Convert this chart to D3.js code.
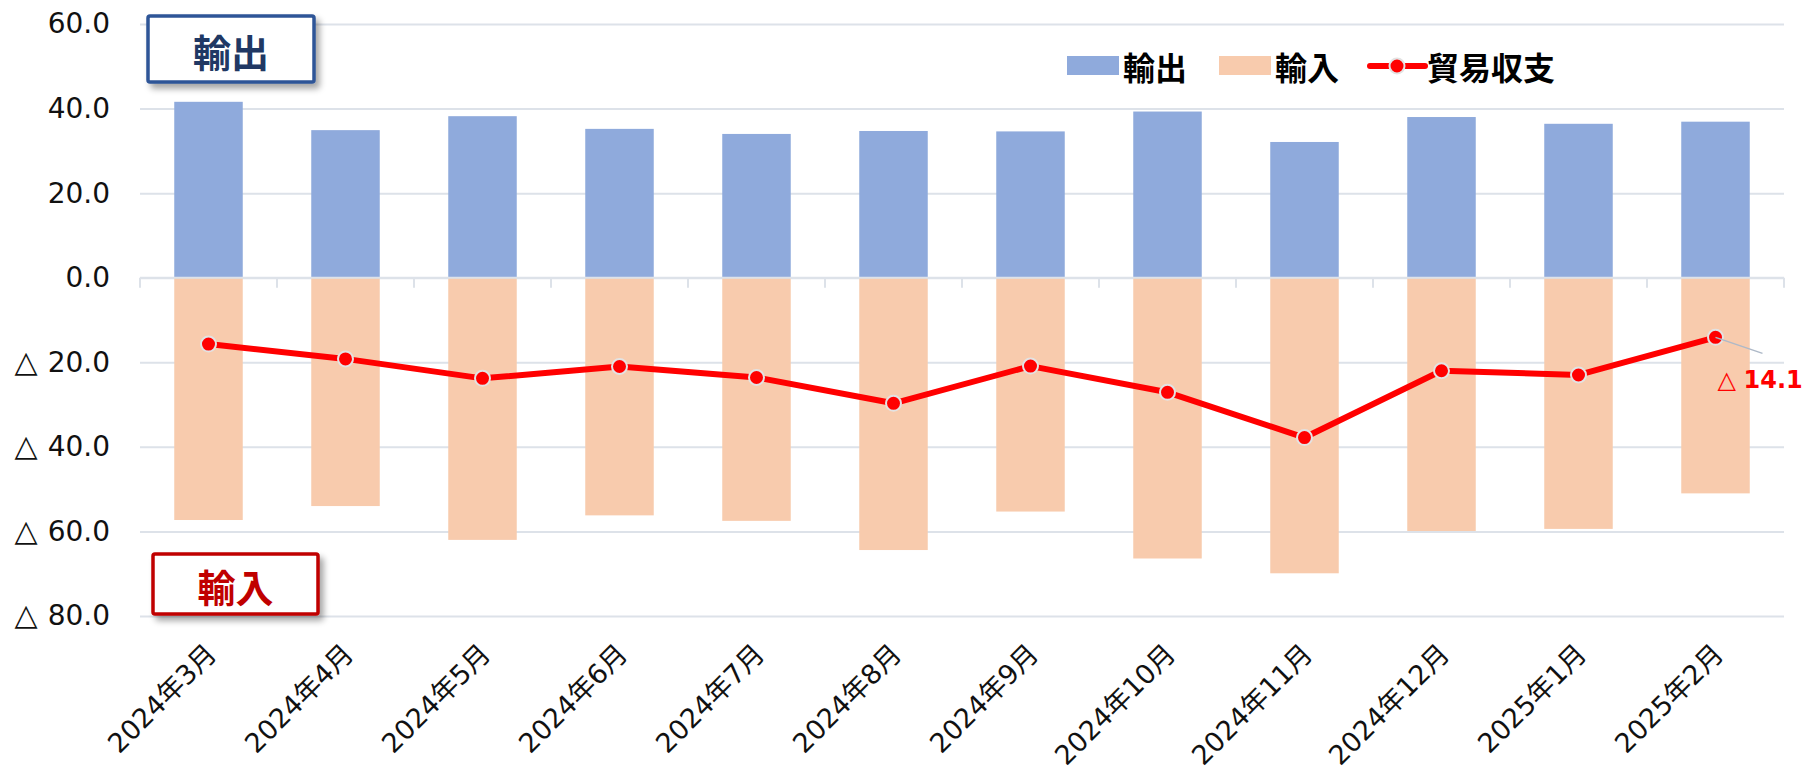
<!DOCTYPE html>
<html>
<head>
<meta charset="utf-8">
<script src="https://cdn.jsdelivr.net/npm/d3@7"></script>
<style>
  html, body { margin: 0; padding: 0; background: #fff; }
  svg { display: block; }
</style>
</head>
<body>
<svg id="chart" width="1807" height="773"></svg>
<script>
// ---- data ----
const categories = ["2024年3月","2024年4月","2024年5月","2024年6月","2024年7月","2024年8月",
                    "2024年9月","2024年10月","2024年11月","2024年12月","2025年1月","2025年2月"];
const exportsVals = [41.6, 34.9, 38.2, 35.2, 34.0, 34.7, 34.6, 39.3, 32.1, 38.0, 36.4, 36.9];
const importsVals = [-57.3, -54.0, -62.0, -56.2, -57.5, -64.4, -55.3, -66.4, -69.9, -59.9, -59.4, -51.0];
const balanceVals = [-15.7, -19.2, -23.8, -21.0, -23.6, -29.7, -20.9, -27.1, -37.8, -22.0, -23.0, -14.1];
const yTicks = [-80, -60, -40, -20, 0, 20, 40, 60];
const seriesNames = ["輸出", "輸入", "貿易収支"];

(function () {
// ---- layout ----
const svg = d3.select("#chart");
const pL = 140, pR = 1784, pT = 24, pB = 616;
const cExp = "#8FAADC", cImp = "#F8CBAD", cBal = "#FF0000", cGrid = "#DDE2E9";
const numFont = "'DejaVu Sans', 'Noto Sans CJK JP', sans-serif";
const cjkFont = "'Noto Sans CJK JP', 'DejaVu Sans', sans-serif";

const x = d3.scaleBand().domain(categories).range([pL, pR]).paddingInner(0.5).paddingOuter(0.25);
const y = d3.scaleLinear().domain([-80, 60]).range([pB, pT]);

const defs = svg.append("defs");
const f = defs.append("filter").attr("id", "shadow").attr("x", "-20%").attr("y", "-30%").attr("width", "150%").attr("height", "180%");
f.append("feDropShadow").attr("dx", 4).attr("dy", 5).attr("stdDeviation", 3)
  .attr("flood-color", "#000").attr("flood-opacity", 0.35);

// grid + y labels
const fmt = d3.format(".1f");
const yAxis = d3.axisLeft(y).tickValues(yTicks).tickSize(-(pR - pL)).tickPadding(30)
  .tickFormat(d => d < 0 ? "△ " + fmt(-d) : fmt(d));
const gy = svg.append("g").attr("transform", `translate(${pL},0)`).call(yAxis);
gy.select(".domain").remove();
gy.selectAll(".tick line").attr("stroke", cGrid).attr("stroke-width", 2);
gy.selectAll(".tick text").attr("fill", "#111").attr("font-family", numFont).attr("font-size", 28)
  .each(function (d) {
    if (d < 0) {
      const t = d3.select(this).text("");
      t.append("tspan").attr("font-size", 30).text("△");
      t.append("tspan").attr("dx", 10).text(fmt(-d));
    }
  });

// bars
svg.append("g").selectAll("rect").data(categories).join("rect")
  .attr("x", d => x(d)).attr("width", x.bandwidth())
  .attr("y", (d, i) => y(exportsVals[i])).attr("height", (d, i) => y(0) - y(exportsVals[i]))
  .attr("fill", cExp);
svg.append("g").selectAll("rect").data(categories).join("rect")
  .attr("x", d => x(d)).attr("width", x.bandwidth())
  .attr("y", y(0)).attr("height", (d, i) => y(importsVals[i]) - y(0))
  .attr("fill", cImp);

// zero axis line + tick marks at band boundaries
svg.append("line").attr("x1", pL).attr("x2", pR).attr("y1", y(0)).attr("y2", y(0))
  .attr("stroke", cGrid).attr("stroke-width", 2);
const boundaries = categories.map(d => x(d) - x.step() * 0.25).concat([pR]);
svg.append("g").selectAll("line").data(boundaries).join("line")
  .attr("x1", d => d).attr("x2", d => d).attr("y1", y(0)).attr("y2", y(0) + 10)
  .attr("stroke", cGrid).attr("stroke-width", 2);

// x labels
svg.append("g").selectAll("text").data(categories).join("text")
  .attr("transform", d => `translate(${x(d) + x.bandwidth() / 2 + 3},${pB + 33}) rotate(-45)`)
  .attr("text-anchor", "end").attr("dominant-baseline", "central")
  .attr("font-family", numFont).attr("font-size", 27).attr("fill", "#111")
  .text(d => d);

// balance line
const cx = d => x(d) + x.bandwidth() / 2;
const line = d3.line().x((d, i) => cx(categories[i])).y(d => y(d));
svg.append("path").datum(balanceVals).attr("d", line)
  .attr("fill", "none").attr("stroke", cBal).attr("stroke-width", 6).attr("stroke-linejoin", "round");
svg.append("g").selectAll("circle").data(balanceVals).join("circle")
  .attr("cx", (d, i) => cx(categories[i])).attr("cy", d => y(d)).attr("r", 7.5)
  .attr("fill", cBal).attr("stroke", "#E3E3E3").attr("stroke-width", 2);

// end label with leader
const lastI = balanceVals.length - 1;
const lx = cx(categories[lastI]), ly = y(balanceVals[lastI]);
svg.append("line").attr("x1", lx).attr("y1", ly).attr("x2", lx + 47).attr("y2", ly + 16)
  .attr("stroke", "#AEB9C8").attr("stroke-width", 1.5);
const endT = svg.append("text").attr("x", lx + 2).attr("y", ly + 43).attr("dominant-baseline", "central")
  .attr("font-family", numFont).attr("font-size", 24).attr("fill", cBal);
endT.append("tspan").text("△ ");
endT.append("tspan").attr("font-weight", "bold").text(fmt(-balanceVals[lastI]));

// legend
const lg = svg.append("g");
lg.append("rect").attr("x", 1067).attr("y", 56).attr("width", 52).attr("height", 19).attr("fill", cExp);
lg.append("text").attr("x", 1123).attr("y", 66).text(seriesNames[0]);
lg.append("rect").attr("x", 1219).attr("y", 56).attr("width", 52).attr("height", 19).attr("fill", cImp);
lg.append("text").attr("x", 1275).attr("y", 66).text(seriesNames[1]);
lg.append("line").attr("x1", 1370).attr("x2", 1425).attr("y1", 66).attr("y2", 66)
  .attr("stroke", cBal).attr("stroke-width", 6).attr("stroke-linecap", "round");
lg.append("circle").attr("cx", 1397).attr("cy", 66).attr("r", 7.5).attr("fill", cBal)
  .attr("stroke", "#E3E3E3").attr("stroke-width", 2);
lg.append("text").attr("x", 1427).attr("y", 66).text(seriesNames[2]);
lg.selectAll("text").attr("dominant-baseline", "central").attr("font-family", cjkFont)
  .attr("font-weight", "bold").attr("font-size", 32).attr("fill", "#000");

// annotation boxes
function box(x0, y0, w, h, stroke, textColor, label) {
  const g = svg.append("g");
  g.append("rect").attr("x", x0).attr("y", y0).attr("width", w).attr("height", h).attr("rx", 2)
    .attr("fill", "#fff").attr("stroke", stroke).attr("stroke-width", 3.5).attr("filter", "url(#shadow)");
  g.append("text").attr("x", x0 + w / 2).attr("y", y0 + h / 2 + 1).attr("text-anchor", "middle")
    .attr("dominant-baseline", "central").attr("font-family", cjkFont).attr("font-weight", "bold")
    .attr("font-size", 38).attr("fill", textColor).text(label);
}
box(148, 16, 166, 66, "#2F5597", "#203864", seriesNames[0]);
box(153, 554, 165, 60, "#C00000", "#C00000", seriesNames[1]);
})();
</script>
</body>
</html>
